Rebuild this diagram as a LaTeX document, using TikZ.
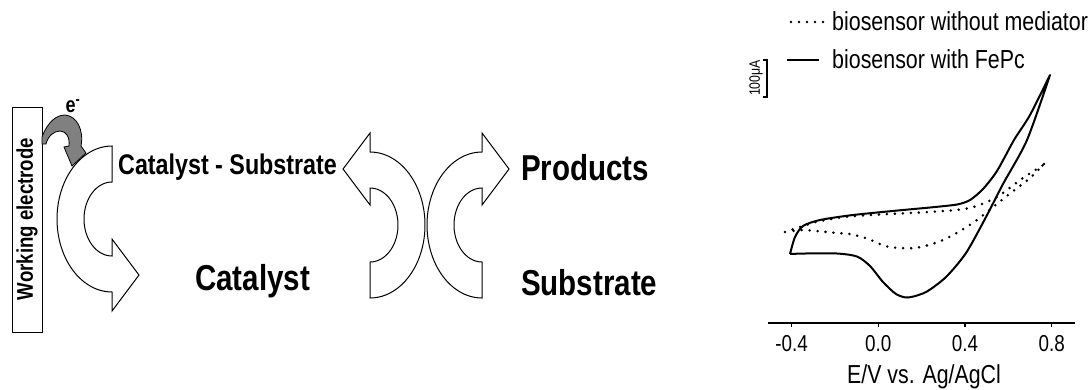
\documentclass[tikz,border=0pt]{standalone}
\usepackage{fontspec}
\setmainfont{Liberation Sans}[FakeStretch=0.82]
\definecolor{egray}{RGB}{128,128,128}
\begin{document}
\begin{tikzpicture}[x=1pt,y=-1pt,
  outline/.style={draw=black,fill=white,line width=1pt,line join=miter},
  biglabel/.style={font=\bfseries\fontsize{36}{40}\selectfont,inner sep=0pt,anchor=base west},
  midlabel/.style={font=\bfseries\fontsize{28.4}{31}\selectfont,inner sep=0pt,anchor=base west},
  legtext/.style={font=\fontsize{26.1}{28}\selectfont,inner sep=0pt,anchor=base west},
  ticklabel/.style={font=\fontsize{23}{25}\selectfont,inner sep=0pt,anchor=base},
  cvline/.style={line width=2pt,line join=round},
  cvdots/.style={line width=2.8pt,line cap=round,dash pattern=on 0pt off 8pt},
  bentarrow/.pic={
    \draw[outline] (0,-73)
      -- plot[domain=-90:90,samples=60] ({55*cos(\x)},{73*sin(\x)})
      -- (0,37)
      -- plot[domain=90:-90,samples=40] ({28*cos(\x)},{37*sin(\x)})
      -- (0,-20) -- (-27,-56) -- (0,-92) -- cycle;
  }
]
\useasboundingbox (0,0) rectangle (1092,389);

% ---------- electrode and electron transfer ----------
\draw[outline] (12,107) rectangle (42,332);
\node[rotate=90,inner sep=0pt,font=\bfseries\fontsize{22.7}{24}\selectfont] (we) at (27,219) {Working electrode};

\draw[fill=egray,draw=black,line width=0.8pt,line join=miter]
  (42,137) .. controls (48,121) and (57,115) .. (65,115)
  .. controls (77,116) and (84,130) .. (81,146)
  -- (86,153) -- (72,166) -- (64,147) -- (69,146)
  .. controls (70,137) and (66,131) .. (60,131)
  .. controls (54,131) and (48,136) .. (46,144)
  -- (42,144) -- cycle;
\node[inner sep=0pt,font=\bfseries\fontsize{22}{24}\selectfont] (el) at (73,106) {e\textsuperscript{-}};

% ---------- catalytic cycle ----------
\pic[rotate=180] at (112,219) {bentarrow};
\pic at (370,225) {bentarrow};
\pic[xscale=-1] at (482,225) {bentarrow};

\node[midlabel] (cs) at (118,174) {Catalyst - Substrate};
\node[biglabel] (cat) at (195,290) {Catalyst};
\node[biglabel] (prod) at (521,180) {Products};
\node[biglabel] (sub) at (521,295) {Substrate};

% ---------- cyclic voltammogram ----------
\coordinate (ax0) at (768,323);
\coordinate (ax1) at (1075,323);
\draw[line width=2pt] (ax0) -- (ax1);
\foreach \v/\t [count=\i] in {791.7/-0.4,878.3/0.0,965/0.4,1051.7/0.8}{
  \draw[line width=1.5pt] (\v,323) -- (\v,327);
  \node[ticklabel] (tick\i) at (\v,351) {\t};
}
\node[font=\fontsize{26}{28}\selectfont,inner sep=0pt,anchor=base] (xlab) at (924,383) {E/V vs. Ag/AgCl};

% scale bar
\coordinate (sbt) at (767,60);
\coordinate (sbb) at (767,97);
\draw[line width=1.6pt] ([xshift=-4pt]sbt) -- (sbt) -- (sbb) -- ([xshift=-4pt]sbb);
\node[rotate=90,inner sep=0pt,font=\fontsize{15}{16}\selectfont] (sb) at (756,78) {100μA};

% legend
\coordinate (ld0) at (791,22);
\coordinate (ld1) at (826,22);
\coordinate (ls0) at (787,60);
\coordinate (ls1) at (819,60);
\draw[cvdots] (ld0) -- (ld1);
\draw[cvline] (ls0) -- (ls1);
\node[legtext] (leg1) at (832,30) {biosensor without mediator};
\node[legtext] (leg2) at (832,68) {biosensor with FePc};

% voltammogram with FePc
\draw[cvline] plot[smooth,tension=0.45] coordinates {
  (790,254) (805,253.5) (837,253.5) (857,256.5) (870,266) (883,282)
  (896,294) (908,297.5) (926,292) (946,277) (966,253) (986,217)
  (1003,184) (1027,140) (1050,75)}
  -- plot[smooth,tension=0.45] coordinates {
  (1050,75) (1030,115) (1014,140) (997,171) (983,189) (970,200)
  (957,204.5) (930,207.5) (903,210) (853,215) (820,220) (803,226)
  (795,237) (790,254)};

% voltammogram without mediator
\draw[cvdots] plot[smooth,tension=0.5] coordinates {
  (785,232) (803,226) (820,221) (845,217) (870,215) (900,213.5)
  (937,211.5) (960,209.5) (975,206.5) (997,197) (1023,178) (1048,162)};
\draw[cvdots] plot[smooth,tension=0.5] coordinates {
  (1044,164) (1030,178) (1003,199) (977,220) (960,231) (943,240)
  (925,246) (910,248.3) (887,246.5) (867,238.5) (850,234) (837,233)
  (803,230) (788,232)};
\end{tikzpicture}
\end{document}
